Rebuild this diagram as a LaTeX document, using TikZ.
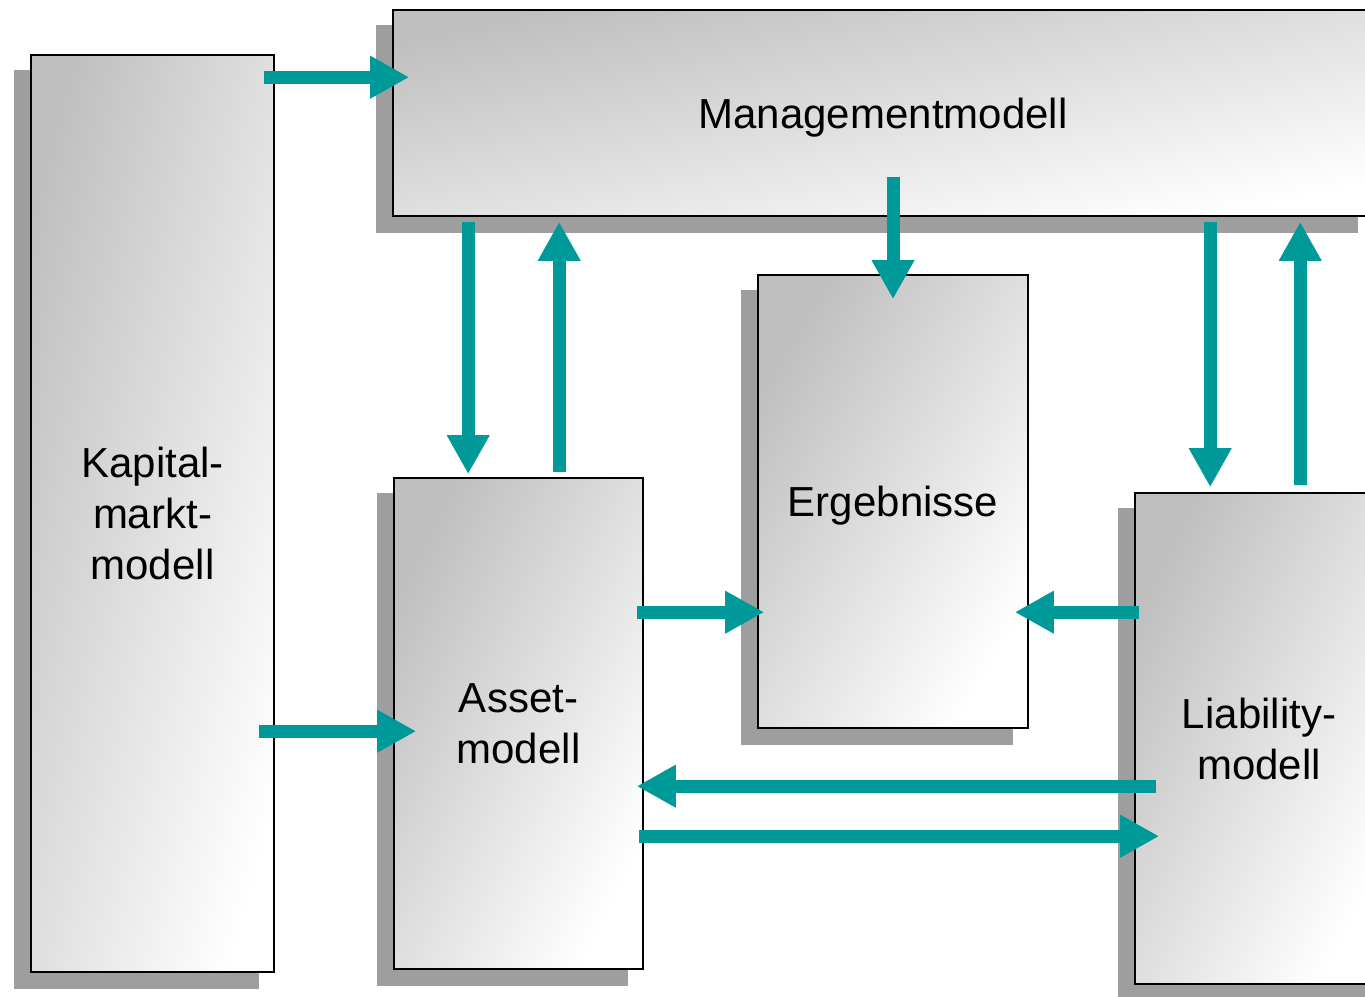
\documentclass[tikz,border=0pt]{standalone}
\usepackage{fontspec}
\setmainfont{Liberation Sans}
\usetikzlibrary{arrows.meta,calc,backgrounds}
\definecolor{teal}{RGB}{0,153,153}
\definecolor{shadowgray}{RGB}{158,158,158}
\pgfdeclarelayer{paper}
\pgfsetlayers{paper,background,main}
\tikzset{
  model/.style={draw=black, line width=1.6pt, inner sep=0pt,
    top color=gray!50, bottom color=white, shading angle=#1,
    align=center, font=\fontsize{42}{51}\selectfont},
  flow/.style={draw=teal, line width=13pt, line cap=butt,
    -{Triangle[length=39pt,width=40pt]}},
}
\newcommand{\boxshadow}[1]{%
  \begin{pgfonlayer}{background}
    \fill[shadowgray] ($(#1.north west)+(-16,16)$) rectangle ($(#1.south east)+(-16,16)$);
  \end{pgfonlayer}}
\begin{document}
\begin{tikzpicture}[x=1pt,y=-1pt]
  \clip (0,0) rectangle (1365,996);
  \begin{pgfonlayer}{paper}
    \fill[white] (0,0) rectangle (1365,996);
  \end{pgfonlayer}

  % model boxes (shading runs from the upper left corner to the lower right corner)
  \node[model=75.2, minimum width=243, minimum height=917] (kap) at (152.5,513.5) {Kapital-\\markt-\\modell};
  \node[model=11.9, minimum width=980, minimum height=206, text depth=0pt] (mgmt) at (883,113) {Managementmodell};
  \node[model=59.2, minimum width=270, minimum height=453, text depth=0pt] (erg) at (893,501.5) {Ergebnisse};
  \node[model=63.1, minimum width=249, minimum height=491] (asset) at (518.5,723.5) {Asset-\\modell};
  \node[model=63.2, minimum width=248, minimum height=491] (liab) at (1259,738.5) {Liability-\\modell};

  \boxshadow{kap}
  \boxshadow{mgmt}
  \boxshadow{erg}
  \boxshadow{asset}
  \boxshadow{liab}

  % flows between the models
  \draw[flow] ($(kap.north east)+(-11,23)$) -- ($(mgmt.north west)+(17,68)$);
  \draw[flow] ($(kap.north east)+(-16,677)$) -- ($(asset.north west)+(23,254)$);
  \draw[flow] ($(mgmt.south west)+(76,5)$) -- ($(asset.north west)+(75,-3)$);
  \draw[flow] ($(asset.north west)+(166,-5)$) -- ($(mgmt.south west)+(167,5)$);
  \draw[flow] ($(mgmt.south)+(10,-40)$) -- ($(erg.north)+(0,25)$);
  \draw[flow] ($(asset.north east)+(-7,135)$) -- ($(erg.north west)+(7,338)$);
  \draw[flow] ($(liab.north west)+(5,120)$) -- ($(erg.north east)+(-14,338)$);
  \draw[flow] ($(mgmt.south west)+(818,5)$) -- ($(liab.north west)+(76,-5)$);
  \draw[flow] ($(liab.north west)+(166,-7)$) -- ($(mgmt.south west)+(908,5)$);
  \draw[flow] ($(liab.north west)+(22,294)$) -- ($(asset.north east)+(-7,309)$);
  \draw[flow] ($(asset.north east)+(-5,359)$) -- ($(liab.north west)+(25,344)$);
\end{tikzpicture}
\end{document}
